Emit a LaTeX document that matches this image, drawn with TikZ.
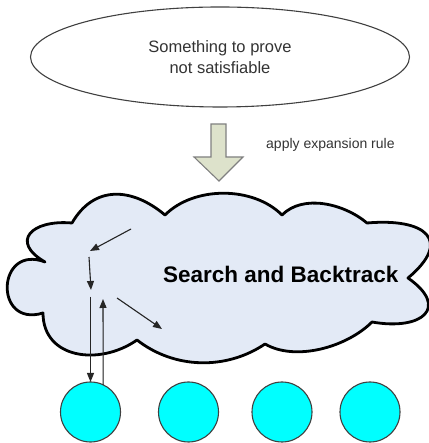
\documentclass[tikz,border=0pt]{standalone}
\usepackage{fontspec}
\setmainfont{Liberation Sans}
\usetikzlibrary{shapes.geometric,arrows.meta}
\definecolor{cloudfill}{HTML}{E3EAF6}
\definecolor{arrowfill}{HTML}{DDE2CB}
\definecolor{arrowline}{HTML}{808080}
\definecolor{txt}{HTML}{333333}
\definecolor{leafcol}{HTML}{00FFFF}
\begin{document}
\begin{tikzpicture}[x=1pt,y=1pt,
  goalbox/.style={ellipse,draw=black!75,line width=1.1pt,minimum width=379pt,minimum height=100pt,
    inner sep=0pt,outer sep=0pt,align=center,text=txt,font=\fontsize{16.5}{21}\selectfont},
  leaf/.style={circle,draw=black!75,line width=1.1pt,fill=leafcol,minimum size=60pt,inner sep=0pt,outer sep=0pt},
  flow/.style={-{Triangle[length=9pt,width=7pt]},line width=1.1pt,draw=black!85,fill=black!85},
  cloudline/.style={fill=cloudfill,draw=black,line width=2.8pt,line join=round},
  blockarrow/.style={fill=arrowfill,draw=arrowline,line width=1.1pt},
  note/.style={anchor=west,inner sep=0pt,text=txt,font=\fontsize{14}{16}\selectfont},
  title/.style={anchor=base west,inner sep=0pt,font=\fontsize{22.5}{26}\selectfont\bfseries}
]
\useasboundingbox (0,0) rectangle (428,443);

% goal ellipse
\node[goalbox] (goal) at (220,386) {Something to prove\\not satisfiable};

% block arrow
\draw[blockarrow] (211,319) -- (226,319) -- (226,286) -- (243,286) -- (219,262)
  -- (194,286) -- (211,286) -- cycle;
\node[note] (rule) at (266,298) {apply expansion rule};

% cloud
\draw[cloudline] (72,220)
  to[out=60,in=140,looseness=1.2] (165,228)
  to[out=45,in=135,looseness=0.9] (282,228)
  to[out=45,in=140,looseness=0.9] (367,220)
  to[out=5,in=40,looseness=2.2] (408,165)
  to[out=-35,in=-10,looseness=2.3] (372,121)
  to[out=-135,in=-30,looseness=0.83] (265,99)
  to[out=214,in=322,looseness=0.94] (137,103)
  to[out=215,in=270,looseness=1.2] (43,130)
  to[out=197,in=159,looseness=2.6] (45,181)
  to[out=150,in=175,looseness=2.2] cycle;
\node[title] (search) at (163,160) {Search and Backtrack};

% leaves
\node[leaf] (c1) at (90.5,31) {};
\node[leaf] (c2) at (188.5,31) {};
\node[leaf] (c3) at (282,31) {};
\node[leaf] (c4) at (370,31) {};

% search arrows
\coordinate (a1s) at (131,214);
\coordinate (a1e) at (90,192);
\coordinate (a2s) at (89,186);
\coordinate (a2e) at (91,153);
\coordinate (a3s) at (117,145);
\coordinate (a3e) at (162,114);
\coordinate (a4s) at (90.5,146);
\coordinate (a5e) at (103,144);
\draw[flow] (a1s) -- (a1e);
\draw[flow] (a2s) -- (a2e);
\draw[flow] (a3s) -- (a3e);
\draw[flow] (a4s) -- (c1.north);
\draw[flow] (c1.65) -- (a5e);
\end{tikzpicture}
\end{document}
